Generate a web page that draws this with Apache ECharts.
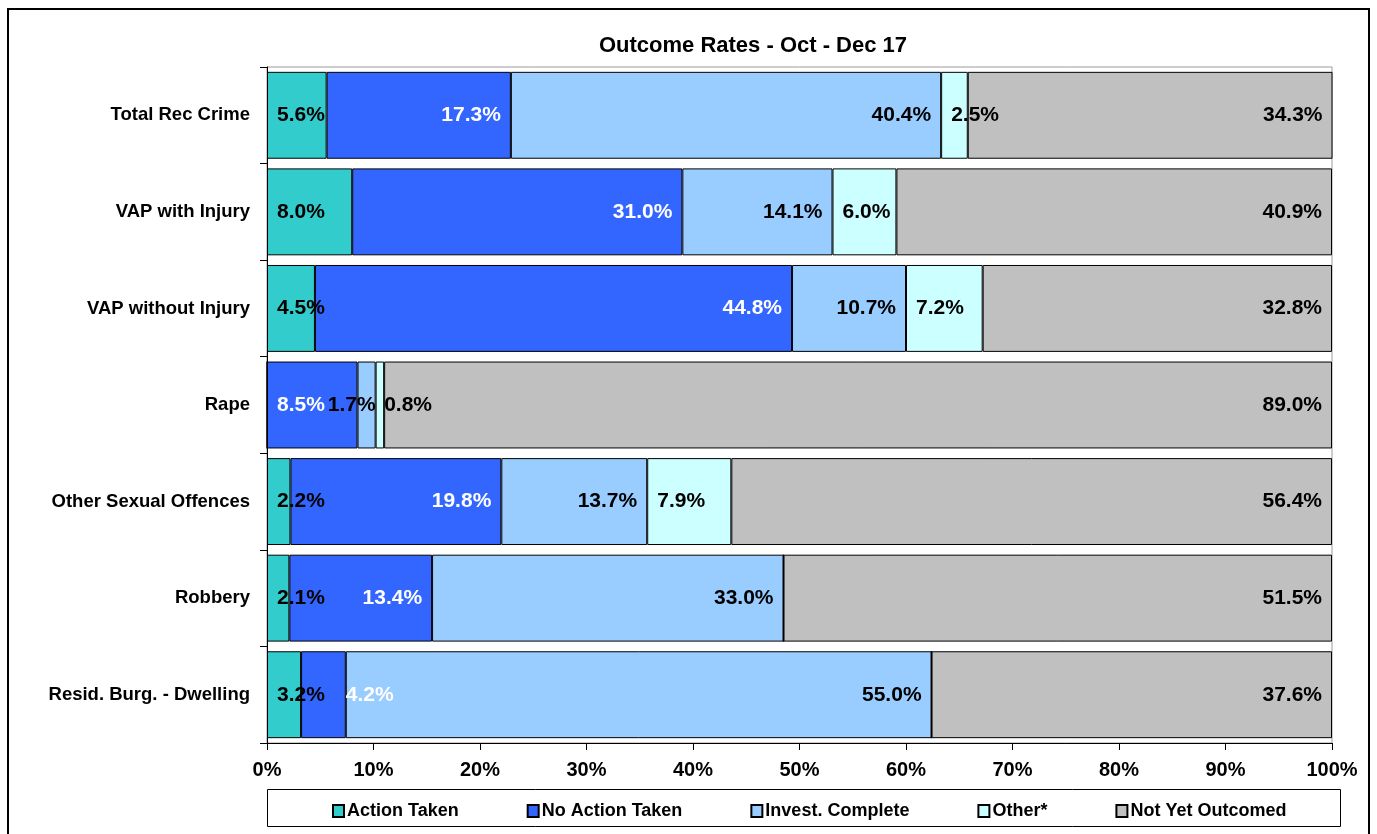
<!DOCTYPE html>
<html>
	<head>
		<meta charset="utf-8">
		<script src="https://cdn.jsdelivr.net/npm/echarts@6/dist/echarts.min.js"></script>
		<style>
			html,body{
				margin:0;
				height:100%;
				background:#fff;
			}
			#container{
				width:1377px;
				height:834px;
			}
		</style>
	</head>
	<body>
		<div id="container"></div>
	<script>
        var categories = ['Total Rec Crime', 'VAP with Injury', 'VAP without Injury', 'Rape', 'Other Sexual Offences', 'Robbery', 'Resid. Burg. - Dwelling'];
        var actionTaken = [5.6, 8.0, 4.5, 0, 2.2, 2.1, 3.2];
        var noActionTaken = [17.3, 31.0, 44.8, 8.5, 19.8, 13.4, 4.2];
        var investComplete = [40.4, 14.1, 10.7, 1.7, 13.7, 33.0, 55.0];
        var other = [2.5, 6.0, 7.2, 0.8, 7.9, 0, 0];
        var notYetOutcomed = [34.3, 40.9, 32.8, 89.0, 56.4, 51.5, 37.6];
        var xTicks = [0, 10, 20, 30, 40, 50, 60, 70, 80, 90, 100];

        var font = '"Liberation Sans", Arial, sans-serif';
        var plotWidth = 1065;
        var allSeries = [actionTaken, noActionTaken, investComplete, other, notYetOutcomed];

        // Excel style: label at the end of the segment, pushed to its start if it does not fit,
        // and nudged clear of a neighbour when the segments are very thin
        function toData(k) {
            return allSeries[k].map(function (v, i) {
                var w = v / 100 * plotWidth;
                var next = k + 1 < allSeries.length ? allSeries[k + 1][i] / 100 * plotWidth : 100;
                var prev = k > 0 ? allSeries[k - 1][i] / 100 * plotWidth : 100;
                var label;
                if (w >= 92) {
                    label = { position: 'insideRight', distance: 10 };
                } else if (next > 0 && next < 12) {
                    label = { position: 'insideRight', distance: 0 };
                } else if (prev > 0 && prev < 60) {
                    label = { position: 'right', distance: 0 };
                } else {
                    label = { position: 'insideLeft', distance: 10 };
                }
                return { value: v, label: label };
            });
        }

        function makeSeries(name, k, color, labelColor) {
            return {
                name: name,
                type: 'bar',
                stack: 'total',
                barCategoryGap: '10%',
                data: toData(k),
                itemStyle: { color: color, borderColor: '#000', borderWidth: 1 },
                label: {
                    show: true,
                    color: labelColor,
                    fontFamily: font,
                    fontWeight: 'bold',
                    fontSize: 21,
                    formatter: function (p) { return p.value ? p.value.toFixed(1) + '%' : ''; }
                },
                emphasis: { disabled: true }
            };
        }

        var myChart = echarts.init(document.getElementById('container'));
        var option = {
            backgroundColor: '#fff',
            animation: false,
            title: {
                text: 'Outcome Rates - Oct - Dec 17',
                left: 748,
                textAlign: 'center',
                top: 30,
                textStyle: { fontFamily: font, fontWeight: 'bold', fontSize: 22, color: '#000' }
            },
            legend: {
                left: 327,
                top: 797,
                icon: 'rect',
                itemWidth: 11,
                itemHeight: 12,
                itemGap: 68,
                textStyle: { fontFamily: font, fontWeight: 'bold', fontSize: 18, color: '#000', padding: [0, 0, 0, -2] },
                data: ['Action Taken', 'No Action Taken', 'Invest. Complete', 'Other*', 'Not Yet Outcomed']
            },
            graphic: [
                {
                    type: 'rect',
                    shape: { x: 8, y: 9, width: 1361, height: 840 },
                    style: { fill: null, stroke: '#000', lineWidth: 2 }
                },
                {
                    type: 'rect',
                    shape: { x: 267.5, y: 789.5, width: 1073, height: 37 },
                    style: { fill: null, stroke: '#000', lineWidth: 1 }
                }
            ],
            grid: {
                left: 267,
                right: 45,
                top: 67,
                bottom: 91,
                show: true,
                borderColor: '#9a9a9a',
                borderWidth: 1
            },
            xAxis: {
                type: 'value',
                min: 0,
                max: 100,
                interval: 10,
                axisLine: { show: true, lineStyle: { color: '#000', width: 1 } },
                axisTick: { show: true, length: 7, lineStyle: { color: '#000' } },
                splitLine: { show: false },
                axisLabel: {
                    margin: 17,
                    fontFamily: font,
                    fontWeight: 'bold',
                    fontSize: 20,
                    color: '#000',
                    formatter: function (v) { return xTicks.indexOf(v) >= 0 ? v + '%' : ''; }
                }
            },
            yAxis: {
                type: 'category',
                inverse: true,
                data: categories,
                axisLine: { show: true, lineStyle: { color: '#000', width: 1 } },
                axisTick: { show: true, length: 7, lineStyle: { color: '#000' } },
                axisLabel: {
                    margin: 17,
                    fontFamily: font,
                    fontWeight: 'bold',
                    fontSize: 18.5,
                    color: '#000'
                }
            },
            series: [
                makeSeries('Action Taken', 0, '#33CCCC', '#000'),
                makeSeries('No Action Taken', 1, '#3366FF', '#fff'),
                makeSeries('Invest. Complete', 2, '#99CCFF', '#000'),
                makeSeries('Other*', 3, '#CCFFFF', '#000'),
                makeSeries('Not Yet Outcomed', 4, '#C0C0C0', '#000')
            ]
        };
        myChart.setOption(option, true);
	</script>
	</body>
</html>
